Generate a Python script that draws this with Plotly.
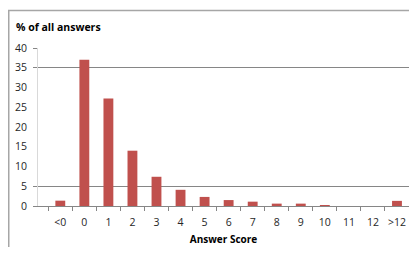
import plotly.graph_objects as go

categories = ["<0", "0", "1", "2", "3", "4", "5", "6", "7", "8", "9", "10", "11", "12", ">12"]
percent = [1.35, 37.0, 27.2, 14.0, 7.4, 4.1, 2.3, 1.5, 1.1, 0.6, 0.6, 0.25, 0.0, 0.0, 1.3]
y_ticks = [0, 5, 10, 15, 20, 25, 30, 35, 40]
grid_vals = [0, 5, 35, 40]

# page body has an 8px margin, so figure coords = window coords - 8
W, H = 409, 239
ML, MR, MT, MB = 30, 8, 40, 41
PW, PH = W - ML - MR, H - MT - MB

fig = go.Figure()
fig.add_trace(go.Bar(x=categories, y=percent, marker_color="#C0504D",
                     marker_line_width=0, width=0.41))
# helper invisible trace for secondary axis (grid lines)
fig.add_trace(go.Scatter(x=[categories[0]], y=[0], yaxis="y2", mode="markers",
                         marker_opacity=0, showlegend=False, hoverinfo="skip"))

font = "'Open Sans', 'Liberation Sans', sans-serif"
fig.update_layout(
    width=W, height=H,
    margin=dict(l=ML, r=MR, t=MT, b=MB, autoexpand=False),
    paper_bgcolor="white", plot_bgcolor="white",
    showlegend=False,
    font=dict(family=font, size=10, color="#262626"),
    xaxis=dict(type="category", categoryorder="array", categoryarray=categories,
               tickson="boundaries", ticks="outside", ticklen=4, tickcolor="#868686",
               showline=True, linecolor="#868686", linewidth=1, showgrid=False,
               tickangle=0, automargin=False, ticklabelstandoff=6,
               tickfont=dict(size=10.5, color="#262626"),
               title=dict(text="<b>Answer Score</b>", font=dict(size=10, color="#000"),
                          standoff=8)),
    yaxis=dict(range=[0, 40], tickvals=y_ticks, ticks="", showgrid=False,
               showline=True, linecolor="#d9d9d9", zeroline=False, automargin=False,
               tickfont=dict(size=10.5, color="#262626"), ticklabelstandoff=8),
    yaxis2=dict(range=[0, 40], overlaying="y", side="left", tickvals=grid_vals,
                showticklabels=False, ticks="outside", ticklen=4, tickcolor="#868686",
                showgrid=True, gridcolor="#868686", gridwidth=1, zeroline=False,
                showline=False, automargin=False),
)
fig.add_annotation(text="<b>% of all answers</b>", xref="paper", yref="paper",
                   x=(6 - ML) / PW, y=(H - MB - 19) / PH, xanchor="left", yanchor="middle",
                   showarrow=False, font=dict(size=10.5, color="#000"))
# outer chart frame (partially visible, cut at right and bottom)
fig.add_shape(type="rect", xref="paper", yref="paper",
              x0=(0.75 - ML) / PW, x1=(W + 20 - ML) / PW,
              y0=(H - MB - H - 20) / PH, y1=(H - MB - 2.5) / PH,
              line=dict(color="#a6a6a6", width=1.5), layer="below")
fig.write_html("out.html")
